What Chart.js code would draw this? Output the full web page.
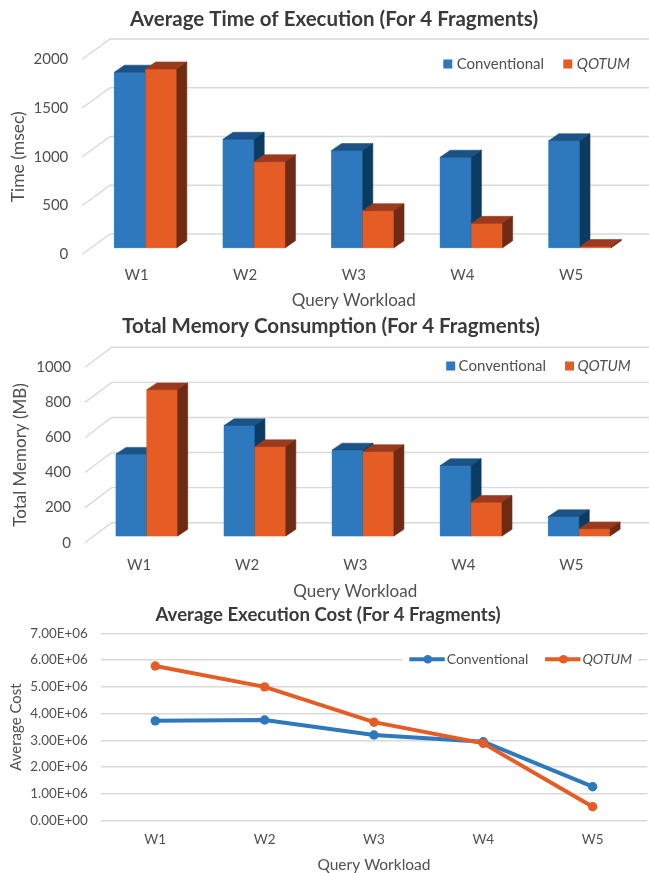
<!DOCTYPE html>
<html>
<head>
<meta charset="utf-8">
<script src="https://cdn.jsdelivr.net/npm/chart.js@4.4.1/dist/chart.umd.min.js"></script>
<style>
  html, body { margin: 0; padding: 0; background: #fff; overflow: hidden; }
  #page { position: relative; width: 649px; height: 873px; overflow: hidden; background: #fff; }
  #page canvas { position: absolute; left: 0; }
</style>
</head>
<body>
<div id="page">
  <canvas id="timeChart" width="649" height="312" style="top:0px"></canvas>
  <canvas id="memChart" width="649" height="295" style="top:305px"></canvas>
  <canvas id="costChart" width="652" height="273" style="top:600px"></canvas>
</div>
<script>
// ---- data ----
const workloads = ['W1', 'W2', 'W3', 'W4', 'W5'];
const seriesNames = ['Conventional', 'QOTUM'];

const timeConventional = [1800, 1112, 996, 928, 1097];
const timeQotum = [1833, 882, 380, 250, 12];
const timeTicks = [0, 500, 1000, 1500, 2000];

const memConventional = [467, 630, 491, 402, 111];
const memQotum = [834, 510, 482, 193, 42];
const memTicks = [0, 200, 400, 600, 800, 1000];

const costConventional = [3.73e6, 3.76e6, 3.20e6, 2.95e6, 1.27e6];
const costQotum = [5.78e6, 5.00e6, 3.68e6, 2.89e6, 0.52e6];
const costTicks = [0, 1e6, 2e6, 3e6, 4e6, 5e6, 6e6, 7e6];

// ---- styling ----
const BLUE = '#2E78BE', BLUE_TOP = '#1C5387', BLUE_SIDE = '#0C3B61';
const ORANGE = '#E55C24', ORANGE_TOP = '#9B3A1E', ORANGE_SIDE = '#6E2A12';
const GRID = '#d9d9d9';
const TEXT = '#505050';
const TITLE = '#3a3a3a';
const FONT = 'Lato';

// 1.23E+06 style labels with a two-digit exponent
function sci(v) {
  if (v === 0) return '0.00E+00';
  const e = Math.floor(Math.log10(Math.abs(v)) + 1e-9);
  const m = v / Math.pow(10, e);
  return m.toFixed(2) + 'E' + (e < 0 ? '-' : '+') + String(Math.abs(e)).padStart(2, '0');
}

function poly(ctx, pts) {
  ctx.beginPath();
  ctx.moveTo(pts[0][0], pts[0][1]);
  for (let i = 1; i < pts.length; i++) ctx.lineTo(pts[i][0], pts[i][1]);
  ctx.closePath();
  ctx.fill();
  ctx.stroke();
}

// Oblique 3D look: the scales give the front plane; the back wall and the
// bar boxes sit behind it, shifted by fixed offsets.
const bar3d = {
  id: 'bar3d',
  beforeDatasetsDraw(chart, args, o) {
    const { ctx, chartArea: a, scales: { y } } = chart;
    ctx.save();
    ctx.strokeStyle = o.gridColor;
    ctx.lineWidth = o.gridWidth;
    y.ticks.forEach(t => {
      const py = y.getPixelForValue(t.value);
      ctx.beginPath();
      ctx.moveTo(a.left, py);
      ctx.lineTo(a.left + o.wall.dx, py + o.wall.dy);
      ctx.lineTo(a.right + o.wall.dx, py + o.wall.dy);
      ctx.stroke();
    });
    ctx.restore();
    ctx.save();
    ctx.translate(o.inset.dx, o.inset.dy);
  },
  afterDatasetsDraw(chart, args, o) {
    const { ctx } = chart;
    const metas = chart.getSortedVisibleDatasetMetas().slice().sort((p, q) => p.index - q.index);
    const n = chart.data.labels.length;
    const { dx, dy } = o.depth;
    ctx.lineWidth = 0.6;
    ctx.lineJoin = 'round';
    for (let i = 0; i < n; i++) {
      for (const m of metas) {
        const el = m.data[i];
        const ds = chart.data.datasets[m.index];
        const { x, y, base, width } = el.getProps(['x', 'y', 'base', 'width'], true);
        const l = x - width / 2, r = x + width / 2;
        const top = Math.min(y, base), bot = Math.max(y, base);
        ctx.fillStyle = ds.backgroundColor;
        ctx.strokeStyle = ds.backgroundColor;
        poly(ctx, [[l, top], [r, top], [r, bot], [l, bot]]);
        ctx.fillStyle = ds.topColor;
        ctx.strokeStyle = ds.topColor;
        poly(ctx, [[l, top], [r, top], [r + dx, top + dy], [l + dx, top + dy]]);
        ctx.fillStyle = ds.sideColor;
        ctx.strokeStyle = ds.sideColor;
        poly(ctx, [[r, top], [r + dx, top + dy], [r + dx, bot + dy], [r, bot]]);
      }
    }
    ctx.restore();
  }
};

// Chart title and axis titles
const captions = {
  id: 'captions',
  afterDraw(chart, args, o) {
    const { ctx, chartArea: a } = chart;
    ctx.save();
    ctx.textAlign = 'center';
    ctx.textBaseline = 'middle';
    if (o.title) {
      ctx.font = o.title.font;
      ctx.fillStyle = TITLE;
      ctx.fillText(o.title.text, o.title.x, o.title.y);
    }
    if (o.xTitle) {
      ctx.font = o.xTitle.font;
      ctx.fillStyle = TEXT;
      ctx.fillText(o.xTitle.text, (a.left + a.right) / 2, o.xTitle.y);
    }
    if (o.yTitle) {
      ctx.font = o.yTitle.font;
      ctx.fillStyle = TEXT;
      ctx.translate(o.yTitle.x, (a.top + a.bottom) / 2);
      ctx.rotate(-Math.PI / 2);
      ctx.fillText(o.yTitle.text, 0, 0);
    }
    ctx.restore();
  }
};

// Series key: coloured squares for the bar charts, line-and-dot for the line chart
const keys = {
  id: 'keys',
  beforeDatasetsDraw(chart, args, o) {
    const { ctx } = chart;
    ctx.save();
    ctx.textAlign = 'left';
    ctx.textBaseline = 'middle';
    if (o.backdrop) {
      ctx.fillStyle = '#fff';
      ctx.fillRect(o.backdrop.x0, o.y - 9, o.backdrop.x1 - o.backdrop.x0, 18);
    }
    chart.data.datasets.forEach((ds, i) => {
      const x = o.xs[i];
      const c = ds.keyColor;
      let tx;
      if (o.kind === 'box') {
        ctx.fillStyle = c;
        ctx.fillRect(x, o.y - 4.5, 9, 9);
        tx = x + o.gap;
      } else {
        ctx.strokeStyle = c;
        ctx.lineWidth = 4;
        ctx.beginPath();
        ctx.moveTo(x, o.y);
        ctx.lineTo(x + 35.5, o.y);
        ctx.stroke();
        ctx.fillStyle = c;
        ctx.beginPath();
        ctx.arc(x + 18.5, o.y, 4.3, 0, Math.PI * 2);
        ctx.fill();
        tx = x + o.gap;
      }
      ctx.fillStyle = TEXT;
      ctx.font = (ds.label === 'QOTUM' ? 'italic ' : '') + o.fontSize + 'px ' + FONT;
      ctx.fillText(ds.label, tx, o.y);
    });
    ctx.restore();
  }
};

function barChart(canvasId, valuesA, valuesB, ticks, g) {
  return new Chart(document.getElementById(canvasId), {
    type: 'bar',
    data: {
      labels: workloads,
      datasets: [
        { label: seriesNames[0], data: valuesA, backgroundColor: BLUE, topColor: BLUE_TOP, sideColor: BLUE_SIDE,
          keyColor: BLUE, borderWidth: 0, barPercentage: 1, categoryPercentage: g.catPct },
        { label: seriesNames[1], data: valuesB, backgroundColor: ORANGE, topColor: ORANGE_TOP, sideColor: ORANGE_SIDE,
          keyColor: ORANGE, borderWidth: 0, barPercentage: 1, categoryPercentage: g.catPct }
      ]
    },
    plugins: [keys, bar3d, captions],
    options: {
      responsive: false,
      animation: false,
      events: [],
      layout: { padding: { left: 0, right: g.padRight, top: g.padTop, bottom: g.padBottom } },
      plugins: {
        legend: { display: false },
        tooltip: { enabled: false },
        title: { display: false },
        bar3d: { gridColor: GRID, gridWidth: 1.4, wall: g.wall, inset: g.inset, depth: g.depth },
        captions: g.captions,
        keys: g.keys
      },
      scales: {
        x: {
          type: 'category',
          offset: true,
          grid: { display: false, drawTicks: false },
          border: { display: false },
          ticks: { color: TEXT, font: { family: FONT, size: 15 }, padding: g.xPad, maxRotation: 0, autoSkip: false },
          afterFit: s => { s.height = 40; }
        },
        y: {
          min: ticks[0],
          max: ticks[ticks.length - 1],
          grid: { display: false, drawTicks: false },
          border: { display: false },
          ticks: { color: TEXT, font: { family: FONT, size: 15 }, padding: 14, callback: v => String(v) },
          afterBuildTicks: s => { s.ticks = ticks.map(v => ({ value: v })); },
          afterFit: s => { s.width = g.plotLeft; }
        }
      }
    }
  });
}

barChart('timeChart', timeConventional, timeQotum, timeTicks, {
  plotLeft: 82.3, padRight: 23.7, padTop: 59.3, padBottom: 17.7,
  catPct: 0.575, xPad: 11.8,
  wall: { dx: 27.7, dy: -20.3 }, inset: { dx: 9, dy: -6.6 }, depth: { dx: 10, dy: -7 },
  captions: {
    title: { text: 'Average Time of Execution (For 4 Fragments)', x: 334, y: 19.5, font: 'bold 20.5px ' + FONT },
    xTitle: { text: 'Query Workload', y: 301, font: '17px ' + FONT },
    yTitle: { text: 'Time (msec)', x: 18, font: '17.5px ' + FONT }
  },
  keys: { kind: 'box', y: 64, xs: [443.3, 563.3], gap: 13.4, fontSize: 15 }
});

barChart('memChart', memConventional, memQotum, memTicks, {
  plotLeft: 85, padRight: 23.5, padTop: 62.3, padBottom: 17.3,
  catPct: 0.571, xPad: 13.4,
  wall: { dx: 26.7, dy: -20 }, inset: { dx: 7.8, dy: -6.7 }, depth: { dx: 10, dy: -6.7 },
  captions: {
    title: { text: 'Total Memory Consumption (For 4 Fragments)', x: 331, y: 21, font: 'bold 20.5px ' + FONT },
    xTitle: { text: 'Query Workload', y: 286.7, font: '17px ' + FONT },
    yTitle: { text: 'Total Memory (MB)', x: 21, font: '17px ' + FONT }
  },
  keys: { kind: 'box', y: 61, xs: [446.2, 565], gap: 12.4, fontSize: 15 }
});

new Chart(document.getElementById('costChart'), {
  type: 'line',
  data: {
    labels: workloads,
    datasets: [
      { label: seriesNames[0], data: costConventional, order: 1, borderColor: BLUE, backgroundColor: BLUE, keyColor: BLUE,
        borderWidth: 4, pointRadius: 4.7, pointBorderWidth: 0, pointBackgroundColor: BLUE, tension: 0, fill: false },
      { label: seriesNames[1], data: costQotum, order: 0, borderColor: ORANGE, backgroundColor: ORANGE, keyColor: ORANGE,
        borderWidth: 4, pointRadius: 4.7, pointBorderWidth: 0, pointBackgroundColor: ORANGE, tension: 0, fill: false }
    ]
  },
  plugins: [keys, captions],
  options: {
    responsive: false,
    animation: false,
    events: [],
    layout: { padding: { left: 0, right: 1, top: 33.3, bottom: 12.3 } },
    plugins: {
      legend: { display: false },
      tooltip: { enabled: false },
      title: { display: false },
      captions: {
        title: { text: 'Average Execution Cost (For 4 Fragments)', x: 328, y: 15, font: 'bold 18.6px ' + FONT },
        xTitle: { text: 'Query Workload', y: 265, font: '15.5px ' + FONT },
        yTitle: { text: 'Average Cost', x: 16.5, font: '15px ' + FONT }
      },
      keys: { kind: 'line', y: 59.3, xs: [409.3, 545], gap: 37.4, fontSize: 14, backdrop: { x0: 402.7, x1: 638.3 } }
    },
    scales: {
      x: {
        type: 'category',
        offset: true,
        grid: { display: false, drawTicks: false },
        border: { display: false },
        ticks: { color: TEXT, font: { family: FONT, size: 13.5 }, padding: 11.2, maxRotation: 0, autoSkip: false },
        afterFit: s => { s.height = 40; }
      },
      y: {
        min: costTicks[0],
        max: costTicks[costTicks.length - 1],
        grid: { color: GRID, lineWidth: 1.4, drawTicks: false },
        border: { display: false },
        ticks: { color: TEXT, font: { family: FONT, size: 13.4 }, padding: 12.9, callback: v => sci(v) },
        afterBuildTicks: s => { s.ticks = costTicks.map(v => ({ value: v })); },
        afterFit: s => { s.width = 100.6; }
      }
    }
  }
});
</script>
</body>
</html>
